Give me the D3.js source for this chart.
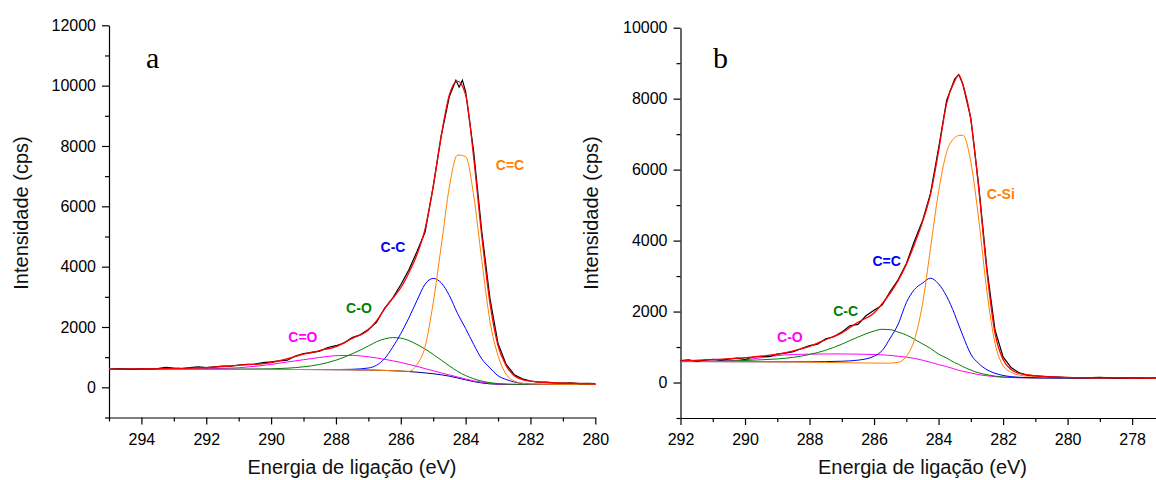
<!DOCTYPE html>
<html>
<head>
<meta charset="utf-8">
<script src="https://cdn.jsdelivr.net/npm/d3@7"></script>
<style>
  body { margin: 0; background: #fff; }
  svg text { font-family: "Liberation Sans", Arial, sans-serif; }
  .tick text { font-size: 16px; fill: #000; }
  .domain, .tick line { stroke: #000; stroke-width: 1.2; }
  .title { font-size: 20px; fill: #111; }
  .peak { font-size: 14px; font-weight: bold; }
  .panel { font-size: 30px; }
</style>
</head>
<body>
<svg id="chart" width="1156" height="480"></svg>
<script>
// panel a : energy grid of the fitted curves (eV)
const energyA = [295, 294, 293, 292, 291, 290, 289.5, 289, 288.5, 288, 287.5, 287, 286.75, 286.5, 286.25, 286, 285.75, 285.5, 285.25, 285,
  284.75, 284.5, 284.25, 284, 283.75, 283.5, 283.25, 283, 282.75, 282.5, 282.25, 282, 281.5, 281, 280.5, 280]
const envelopeA = [600, 610, 625, 650, 730, 820, 950, 1100, 1220, 1350, 1620, 1900, 2200, 2600, 2950, 3300, 3800, 4400, 5250, 6650,
  8350, 9700, 10150, 9700, 7600, 5000, 2800, 1380, 720, 380, 255, 205, 160, 140, 128, 118]
const backgroundA = [600, 598, 597, 596, 595, 593, 592, 590, 588, 585, 580, 573, 568, 560, 550, 538, 522, 502, 478, 450,
  415, 370, 310, 250, 190, 145, 115, 102, 97, 95, 95, 95, 95, 95, 95, 95]
const cdoA = [600, 600, 603, 615, 650, 760, 840, 915, 990, 1050, 1060, 1010, 975, 930, 880, 825, 760, 695, 620, 550,
  480, 410, 345, 275, 215, 170, 135, 112, 102, 97, 96, 95, 95, 95, 95, 95]
const coA = [600, 598, 597, 597, 600, 612, 635, 680, 760, 900, 1110, 1370, 1510, 1605, 1650, 1630, 1550, 1420, 1270, 1090,
  900, 710, 530, 390, 285, 205, 155, 122, 106, 100, 97, 95, 95, 95, 95, 95]
const ccA = [600, 598, 597, 596, 595, 593, 592, 590, 589, 588, 598, 640, 730, 950, 1330, 1780, 2300, 2880, 3420, 3610,
  3460, 3040, 2450, 1950, 1420, 940, 645, 385, 260, 176, 130, 108, 98, 95, 95, 95]
const cdcA = [600, 598, 597, 596, 595, 593, 592, 590, 588, 585, 580, 573, 568, 560, 550, 540, 530, 760, 1350, 2800,
  4700, 6650, 7700, 7650, 6350, 4200, 2200, 1050, 430, 210, 135, 110, 100, 97, 96, 95]
// panel a : measured spectrum
const rawEnergyA = [295, 294.75, 294.5, 294.25, 294, 293.75, 293.5, 293.25, 293, 292.75, 292.5, 292.25, 292, 291.75, 291.5, 291.25,
  291, 290.75, 290.5, 290.25, 290, 289.75, 289.5, 289.25, 289, 288.75, 288.5, 288.25, 288, 287.75, 287.5, 287.25, 287, 286.75,
  286.5, 286.25, 286, 285.75, 285.5, 285.25, 285, 284.75, 284.5, 284.3, 284.2, 284.1, 284, 283.75, 283.5, 283.25, 283, 282.75,
  282.5, 282.25, 282, 281.75, 281.5, 281.25, 281, 280.75, 280.5, 280.25, 280]
const rawA = [590, 615, 605, 595, 612, 608, 620, 660, 635, 625, 650, 675, 655, 680, 700, 705, 740, 760, 770, 820, 845, 880, 900,
  1040, 1120, 1150, 1200, 1320, 1380, 1470, 1650, 1740, 1920, 2150, 2620, 2960, 3400, 3900, 4500, 5150, 6650, 8350, 9650, 10180,
  9950, 10180, 9800, 7800, 5150, 2950, 1450, 760, 420, 280, 210, 175, 170, 150, 140, 145, 125, 130, 120]

// panel b : energy grid of the fitted curves (eV)
const energyB = [292, 291, 290, 289.5, 289, 288.5, 288, 287.5, 287, 286.5, 286, 285.75, 285.5, 285.25, 285, 284.75, 284.5, 284.25,
  284, 283.75, 283.5, 283.375, 283.25, 283, 282.75, 282.5, 282.25, 282, 281.75, 281.5, 281, 280.5, 280, 279, 278, 277.25]
const envelopeB = [611, 645, 700, 740, 800, 890, 1020, 1210, 1400, 1700, 1960, 2220, 2520, 2880, 3330, 3890, 4520, 5300,
  6520, 7870, 8500, 8668, 8400, 7400, 5430, 3120, 1390, 650, 370, 255, 190, 160, 145, 132, 128, 128]
const coB = [592, 605, 640, 700, 760, 790, 800, 805, 805, 800, 790, 780, 765, 740, 715, 680, 630, 570,
  505, 450, 380, 345, 315, 270, 220, 190, 165, 150, 140, 135, 128, 126, 125, 125, 125, 125]
const ccB = [590, 600, 620, 640, 665, 710, 790, 910, 1080, 1280, 1450, 1500, 1490, 1420, 1340, 1220, 1090, 960,
  800, 690, 560, 510, 450, 350, 270, 220, 180, 155, 145, 138, 130, 128, 126, 125, 125, 125]
const cdcB = [590, 588, 586, 585, 584, 584, 585, 590, 600, 630, 740, 900, 1250, 1650, 2250, 2620, 2800, 2940,
  2780, 2430, 1920, 1620, 1330, 800, 532, 360, 260, 200, 165, 148, 135, 130, 128, 125, 125, 125]
const csiB = [590, 588, 585, 583, 580, 577, 572, 566, 560, 553, 548, 545, 548, 570, 734, 1200, 2200, 3780,
  5380, 6490, 6900, 6960, 6970, 6220, 4560, 2560, 1110, 480, 290, 210, 165, 145, 135, 128, 125, 125]
// panel b : measured spectrum
const rawEnergyB = [292, 291.75, 291.5, 291.25, 291, 290.75, 290.5, 290.25, 290, 289.75, 289.5, 289.25, 289, 288.75, 288.5, 288.25,
  288, 287.75, 287.5, 287.25, 287, 286.75, 286.5, 286.25, 286, 285.75, 285.5, 285.25, 285, 284.75, 284.5, 284.25, 284, 283.75,
  283.5, 283.375, 283.25, 283, 282.75, 282.5, 282.25, 282, 281.75, 281.5, 281.25, 281, 280.75, 280.5, 280.25, 280, 279.5, 279,
  278.5, 278, 277.5, 277.25]
const rawB = [620, 640, 600, 630, 655, 630, 660, 690, 650, 720, 740, 730, 800, 830, 870, 960, 1040, 1080, 1230, 1290, 1420, 1600,
  1640, 1880, 2040, 2180, 2560, 2900, 3350, 3980, 4550, 5330, 6600, 7950, 8550, 8680, 8420, 7450, 5500, 3200, 1480, 720, 420,
  270, 210, 190, 175, 160, 150, 140, 130, 145, 125, 130, 120, 135]

// ticks
const xTicksA = [294, 292, 290, 288, 286, 284, 282, 280]
const xMinorA = [295, 293, 291, 289, 287, 285, 283, 281]
const yTicksA = [0, 2000, 4000, 6000, 8000, 10000, 12000]
const yMinorA = [-1000, 1000, 3000, 5000, 7000, 9000, 11000]
const xTicksB = [292, 290, 288, 286, 284, 282, 280, 278]
const xMinorB = [291, 289, 287, 285, 283, 281, 279]
const yTicksB = [0, 2000, 4000, 6000, 8000, 10000]
const yMinorB = [-1000, 1000, 3000, 5000, 7000, 9000]

const labelsA = ["C=O", "C-O", "C-C", "C=C"]
const labelsB = ["C-O", "C-C", "C=C", "C-Si"]

const root = d3.select("#chart")

function plotPanel(root, p) {
    let x = d3.scaleLinear().domain(p.xDomain).range(p.xRange)
    let y = d3.scaleLinear().domain(p.yDomain).range(p.yRange)
    let g = root.append("g")
    let base = p.yRange[0]

    g.append("g")
        .attr("transform", "translate(0," + base + ")")
        .call(d3.axisBottom(x).tickValues(p.xMinor).tickSize(4).tickFormat(""))
        .call(a => a.select(".domain").remove())
    g.append("g")
        .attr("transform", "translate(0," + base + ")")
        .call(d3.axisBottom(x).tickValues(p.xTicks).tickSize(7).tickSizeOuter(0).tickPadding(9).tickFormat(d3.format("d")))

    g.append("g")
        .attr("transform", "translate(" + p.xRange[0] + ",0)")
        .call(d3.axisLeft(y).tickValues(p.yMinor).tickSize(4).tickFormat(""))
        .call(a => a.select(".domain").remove())
    g.append("g")
        .attr("transform", "translate(" + p.xRange[0] + ",0)")
        .call(d3.axisLeft(y).tickValues(p.yTicks).tickSize(7).tickSizeOuter(0).tickPadding(6).tickFormat(d3.format("d")))

    let smooth = d3.line().x(d => x(d[0])).y(d => y(d[1])).curve(d3.curveMonotoneX)
    let rough = d3.line().x(d => x(d[0])).y(d => y(d[1]))

    p.series.forEach(s => {
        g.append("path")
            .datum(d3.zip(p.energy, s.values))
            .attr("d", smooth)
            .attr("fill", "none")
            .attr("stroke", s.color)
            .attr("stroke-width", 1)
    })

    g.append("path")
        .datum(d3.zip(p.rawEnergy, p.raw))
        .attr("d", rough)
        .attr("fill", "none")
        .attr("stroke", "#000")
        .attr("stroke-width", 1.2)

    g.append("path")
        .datum(d3.zip(p.energy, p.envelope))
        .attr("d", smooth)
        .attr("fill", "none")
        .attr("stroke", "#ff0000")
        .attr("stroke-width", 1.3)

    // peak names, placed in data coordinates
    p.notes.forEach(n => {
        g.append("text")
            .attr("class", "peak")
            .attr("x", x(n.e))
            .attr("y", y(n.v))
            .attr("text-anchor", "middle")
            .attr("fill", n.color)
            .text(n.text)
    })

    g.append("text")
        .attr("class", "panel")
        .attr("x", p.letterX)
        .attr("y", 68)
        .style("font-family", "'Liberation Serif', 'Times New Roman', serif")
        .text(p.letter)

    g.append("text")
        .attr("class", "title")
        .attr("text-anchor", "middle")
        .attr("x", p.xTitleX)
        .attr("y", 474)
        .text("Energia de ligação (eV)")

    g.append("text")
        .attr("class", "title")
        .attr("text-anchor", "middle")
        .attr("transform", "translate(" + p.yTitleX + ",213) rotate(-90)")
        .text("Intensidade (cps)")
}

plotPanel(root, {
    xDomain: [295, 280], xRange: [109, 595.3],
    yDomain: [-1000, 12000], yRange: [417.5, 25.3],
    xTicks: xTicksA, xMinor: xMinorA, yTicks: yTicksA, yMinor: yMinorA,
    energy: energyA, envelope: envelopeA,
    rawEnergy: rawEnergyA, raw: rawA,
    series: [
        {values: backgroundA, color: "#000080"},
        {values: cdoA, color: "#ff00ff"},
        {values: coA, color: "#008000"},
        {values: ccA, color: "#0000ff"},
        {values: cdcA, color: "#ff8000"}
    ],
    notes: [
        {text: labelsA[0], e: 289.02, v: 1500, color: "#ff00ff"},
        {text: labelsA[1], e: 287.29, v: 2450, color: "#008000"},
        {text: labelsA[2], e: 286.24, v: 4490, color: "#0000ff"},
        {text: labelsA[3], e: 282.63, v: 7200, color: "#ff8000"}
    ],
    letter: "a", letterX: 146, xTitleX: 352, yTitleX: 28
})

plotPanel(root, {
    xDomain: [292, 277.25], xRange: [680.5, 1156.3],
    yDomain: [-1000, 10000], yRange: [418, 27.7],
    xTicks: xTicksB, xMinor: xMinorB, yTicks: yTicksB, yMinor: yMinorB,
    energy: energyB, envelope: envelopeB,
    rawEnergy: rawEnergyB, raw: rawB,
    series: [
        {values: coB, color: "#ff00ff"},
        {values: ccB, color: "#008000"},
        {values: cdcB, color: "#0000ff"},
        {values: csiB, color: "#ff8000"}
    ],
    notes: [
        {text: labelsB[0], e: 288.61, v: 1130, color: "#ff00ff"},
        {text: labelsB[1], e: 286.88, v: 1880, color: "#008000"},
        {text: labelsB[2], e: 285.61, v: 3270, color: "#0000ff"},
        {text: labelsB[3], e: 282.07, v: 5175, color: "#ff8000"}
    ],
    letter: "b", letterX: 713, xTitleX: 922.5, yTitleX: 597.5
})
</script>
</body>
</html>
